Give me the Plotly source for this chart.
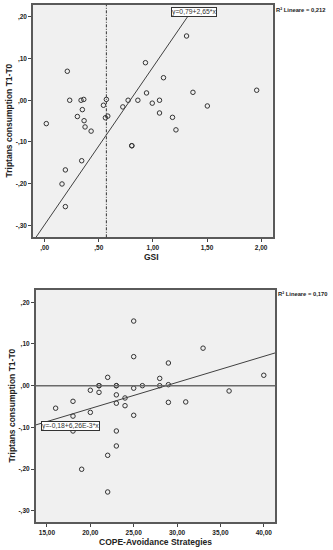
import plotly.graph_objects as go

W, H = 333, 550

# ---- data: top panel (GSI vs Triptans consumption T1-T0)
gsi = [0.015, 0.209, 0.231, 0.336, 0.361, 0.348, 0.302, 0.364, 0.373, 0.429,
       0.543, 0.570, 0.561, 0.583, 0.722, 0.771, 0.861, 0.931, 0.941, 0.994,
       1.061, 1.061, 1.098, 1.181, 1.213, 1.311, 1.370, 1.503, 1.959,
       0.342, 0.191, 0.160, 0.191, 0.805, 0.805]
trip1 = [-0.056, 0.0695, 0.0, 0.0, 0.002, -0.0225, -0.039, -0.049, -0.064, -0.074,
         -0.012, 0.002, -0.042, -0.038, -0.016, 0.0, 0.0, 0.090, 0.0175, -0.007,
         0.0, -0.0305, 0.054, -0.041, -0.071, 0.154, 0.019, -0.0137, 0.024,
         -0.145, -0.167, -0.2007, -0.255, -0.109, -0.109]

# ---- data: bottom panel (COPE-Avoidance vs Triptans consumption T1-T0)
cope = [25, 25, 22, 20, 21, 21, 21, 23, 23, 23, 24, 23, 24, 25, 26, 28, 28, 29,
        29, 33, 36, 40, 29, 31, 18, 16, 18, 20, 25, 18, 23, 23, 22, 19, 22]
trip2 = [0.155, 0.0696, 0.020, -0.011, 0.0, 0.0, -0.016, 0.0, 0.0, -0.022, -0.0295,
         -0.042, -0.048, -0.006, 0.0, 0.0175, 0.0, 0.0024, 0.0544, 0.090, -0.0127,
         0.025, -0.040, -0.039, -0.0375, -0.054, -0.073, -0.064, -0.071, -0.1087,
         -0.1087, -0.1446, -0.167, -0.2005, -0.255]

y_ticks = [0.2, 0.1, 0.0, -0.1, -0.2, -0.3]
y_ticktext = [",20", ",10", ",00", "-,10", "-,20", "-,30"]
gsi_ticks = [0, 0.5, 1.0, 1.5, 2.0]
gsi_ticktext = [",00", ",50", "1,00", "1,50", "2,00"]
cope_ticks = [15, 20, 25, 30, 35, 40]
cope_ticktext = ["15,00", "20,00", "25,00", "30,00", "35,00", "40,00"]

fit1 = (0.79, 2.65)      # x = a + b*y  (as labelled)
fit2 = (-0.18, 6.26e-3)  # y = a + b*x
gsi_ref = 0.57
r2_1, r2_2 = "0,212", "0,170"

x1_range = [-0.108, 2.107]
y1_range = [-0.3285, 0.229]
x2_range = [13.70, 41.33]
y2_range = [-0.327, 0.2295]


def px(v):
    return v / W


def py(v):
    return 1 - v / H


fig = go.Figure()

mk = dict(symbol="circle-open", size=4.5, color="#333333", line=dict(width=1, color="#333333"))

fig.add_trace(go.Scatter(x=gsi, y=trip1, mode="markers", marker=mk,
                         xaxis="x", yaxis="y", showlegend=False))
# regression line top
ya, yb = y1_range[0], 0.203
fig.add_trace(go.Scatter(x=[fit1[0] + fit1[1] * ya, fit1[0] + fit1[1] * yb], y=[ya, yb],
                         mode="lines", line=dict(color="#404040", width=1),
                         xaxis="x", yaxis="y", showlegend=False))

fig.add_trace(go.Scatter(x=cope, y=trip2, mode="markers", marker=mk,
                         xaxis="x2", yaxis="y2", showlegend=False))
xa, xb = x2_range
fig.add_trace(go.Scatter(x=[xa, xb], y=[fit2[0] + fit2[1] * xa, fit2[0] + fit2[1] * xb],
                         mode="lines", line=dict(color="#404040", width=1),
                         xaxis="x2", yaxis="y2", showlegend=False))

fig.add_shape(type="line", xref="x", yref="y domain", x0=gsi_ref, x1=gsi_ref, y0=0, y1=1,
              line=dict(color="#333333", width=1, dash="3px,1.5px,1px,1.5px"))
fig.add_shape(type="line", xref="x2 domain", yref="y2", x0=0, x1=1, y0=0, y1=0,
              line=dict(color="#6a6a6a", width=1.5))

tickfont = dict(family="Liberation Sans", size=6.5, color="#222222", weight="bold")
axcommon = dict(showline=True, mirror=True, linecolor="#5a5a5a", linewidth=1.5,
                ticks="outside", ticklen=3, tickcolor="#444444", tickwidth=1,
                showgrid=False, zeroline=False, tickfont=tickfont)

fig.update_layout(
    width=W, height=H, margin=dict(l=0, r=0, t=0, b=0),
    paper_bgcolor="white", plot_bgcolor="#f0f0f0",
    xaxis=dict(domain=[px(33), px(272.7)], range=x1_range, anchor="y",
               tickvals=gsi_ticks, ticktext=gsi_ticktext, **axcommon),
    yaxis=dict(domain=[py(237.3), py(4.7)], range=y1_range, anchor="x",
               tickvals=y_ticks, ticktext=y_ticktext, **axcommon),
    xaxis2=dict(domain=[px(35.7), px(275.3)], range=x2_range, anchor="y2",
                tickvals=cope_ticks, ticktext=cope_ticktext, **axcommon),
    yaxis2=dict(domain=[py(522), py(290)], range=y2_range, anchor="x2",
                tickvals=y_ticks, ticktext=y_ticktext, **axcommon),
)

titlefont = dict(family="Liberation Sans", size=8.5, color="#222222", weight="bold")
labfont = dict(family="Liberation Sans", size=6.8, color="#333333")
r2font = dict(family="Liberation Sans", size=5.8, color="#222222", weight="bold")

ann = [
    dict(x=px(151), y=py(257), text="GSI", font=titlefont),
    dict(x=px(155), y=py(541.7), text="COPE-Avoidance Strategies", font=titlefont),
    dict(x=px(8.5), y=py(121), text="Triptans consumption T1-T0", font=titlefont, textangle=-90),
    dict(x=px(11.5), y=py(406), text="Triptans consumption T1-T0", font=titlefont, textangle=-90),
    dict(x=px(274), y=py(10), text="R² Lineare = " + r2_1, font=r2font, xanchor="left"),
    dict(x=px(275.5), y=py(294.3), text="R² Lineare = " + r2_2, font=r2font, xanchor="left"),
    dict(x=px(194.3), y=py(12.2), text="y=0,79+2,65*x", font=labfont,
         bgcolor="white", bordercolor="#333333", borderwidth=1, borderpad=0),
    dict(x=px(70.4), y=py(426), text="y=-0,18+6,26E-3*x", font=labfont,
         bgcolor="white", bordercolor="#333333", borderwidth=1, borderpad=0),
]
for a in ann:
    a.update(xref="paper", yref="paper", showarrow=False)
    a.setdefault("xanchor", "center")
    a.setdefault("yanchor", "middle")
    fig.add_annotation(**a)

fig.write_html(
    "out.html",
    config={"displayModeBar": False},
    post_script="document.body.style.margin='0';document.body.style.padding='0';"
                "document.body.style.overflow='hidden';",
)
